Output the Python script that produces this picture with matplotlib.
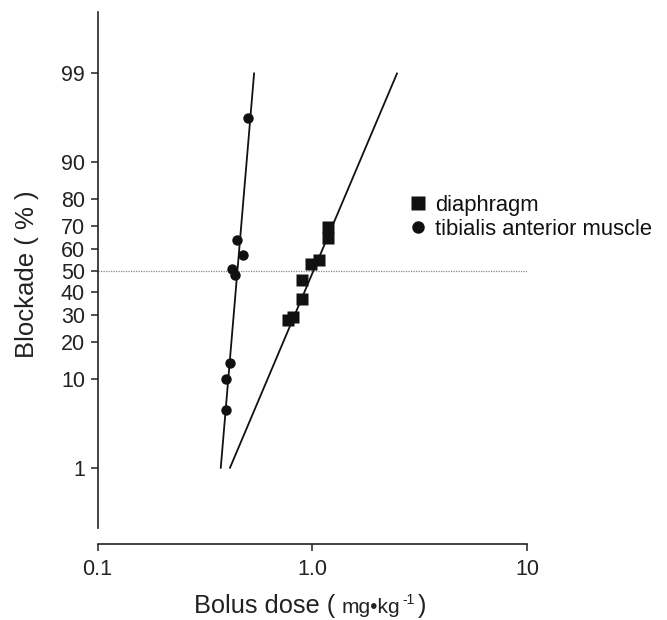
import numpy as np
import matplotlib
matplotlib.use('Agg')
import matplotlib.pyplot as plt
from matplotlib.lines import Line2D
from statistics import NormalDist

plt.rcParams['font.family'] = ['Liberation Sans', 'DejaVu Sans']

# data (dose mg/kg, blockade %)
tib_dose = [0.504, 0.445, 0.476, 0.424, 0.437, 0.415, 0.397, 0.397]
tib_block = [96.4, 64.1, 57.4, 50.9, 47.9, 13.7, 10.1, 5.0]
dia_dose = [1.180, 1.180, 1.078, 0.984, 0.893, 0.893, 0.811, 0.769]
dia_block = [69.8, 65.1, 55.0, 53.0, 45.6, 36.9, 29.3, 27.9]

# fitted probit lines (end points)
tib_fit_dose = [0.375, 0.536]
dia_fit_dose = [0.414, 2.481]
fit_block = [1, 99]

y_ticks = [1, 10, 20, 30, 40, 50, 60, 70, 80, 90, 99]
x_ticks = [0.1, 1, 10]
x_ticklabels = ['0.1', '1.0', '10']

_nd = NormalDist()


def _probit(p):
    p = np.asarray(p, dtype=float)
    out = np.full(p.shape, np.nan)
    ok = np.isfinite(p)
    q = np.clip(p[ok] / 100.0, 1e-12, 1 - 1e-12)
    out[ok] = [_nd.inv_cdf(v) for v in q]
    return out


def _inv_probit(z):
    z = np.asarray(z, dtype=float)
    out = np.full(z.shape, np.nan)
    ok = np.isfinite(z)
    out[ok] = [_nd.cdf(v) * 100.0 for v in z[ok]]
    return out


W, H = 667, 620
fig = plt.figure(figsize=(W / 100, H / 100), dpi=100)
ax = fig.add_axes([97.5 / W, 1 - 527.7 / H, (527 - 97.5) / W, (527.7 - 11.7) / H])

ax.set_xscale('log')
ax.set_yscale('function', functions=(_probit, _inv_probit))

col = '#111111'
ax.axhline(50, color='#888888', lw=0.9, ls=(0, (1, 1)), zorder=1)
ax.plot(tib_fit_dose, fit_block, color=col, lw=1.3, zorder=2)
ax.plot(dia_fit_dose, fit_block, color=col, lw=1.3, zorder=2)
ax.plot(tib_dose, tib_block, 'o', color=col, ms=7.5, mec='none', zorder=3)
ax.plot(dia_dose, dia_block, 's', color=col, ms=8.5, mec='none', zorder=3)

ax.set_xlim(0.1, 10)
ax.set_ylim(float(_inv_probit(-3.034)), float(_inv_probit(3.055)))

ax.set_yticks(y_ticks)
ax.set_yticklabels([str(t) for t in y_ticks])
ax.yaxis.set_minor_locator(plt.NullLocator())
ax.set_xticks(x_ticks)
ax.set_xticklabels(x_ticklabels)
ax.xaxis.set_minor_locator(plt.NullLocator())

ax.tick_params(axis='both', length=5, width=1.1, labelsize=15.5, color='#222222', labelcolor='#222222')
ax.tick_params(axis='y', pad=4)
ax.tick_params(axis='x', pad=6)

for s in ['top', 'right']:
    ax.spines[s].set_visible(False)
for s in ['left', 'bottom']:
    ax.spines[s].set_linewidth(1.2)
    ax.spines[s].set_color('#222222')
ax.spines['bottom'].set_position(('outward', 11.5))

handles = [
    Line2D([], [], marker='s', ls='none', color=col, ms=9.5, mec='none'),
    Line2D([], [], marker='o', ls='none', color=col, ms=9, mec='none'),
]
fig.legend(handles, ['diaphragm', 'tibialis anterior muscle'],
           loc='upper left', bbox_to_anchor=(410 / W, 1 - 195 / H),
           frameon=False, fontsize=15.8, borderpad=0, borderaxespad=0,
           handlelength=0.75, handletextpad=0.4, labelspacing=0.12,
           labelcolor='#111111')

# axis titles
fig.text(27 / W, 1 - 274 / H, 'Blockade ( % )', rotation=90, ha='center', va='center',
         fontsize=18.5, color='#222222')
fig.text(194 / W, 1 - 613 / H, 'Bolus dose (', ha='left', va='baseline',
         fontsize=18.3, color='#222222')
fig.text(342 / W, 1 - 613 / H, 'mg•kg', ha='left', va='baseline',
         fontsize=15, color='#222222')
fig.text(402 / W, 1 - 604 / H, '-1', ha='left', va='baseline',
         fontsize=10, color='#222222')
fig.text(418 / W, 1 - 613 / H, ')', ha='left', va='baseline',
         fontsize=18.3, color='#222222')

fig.savefig('out.png', dpi=100)
